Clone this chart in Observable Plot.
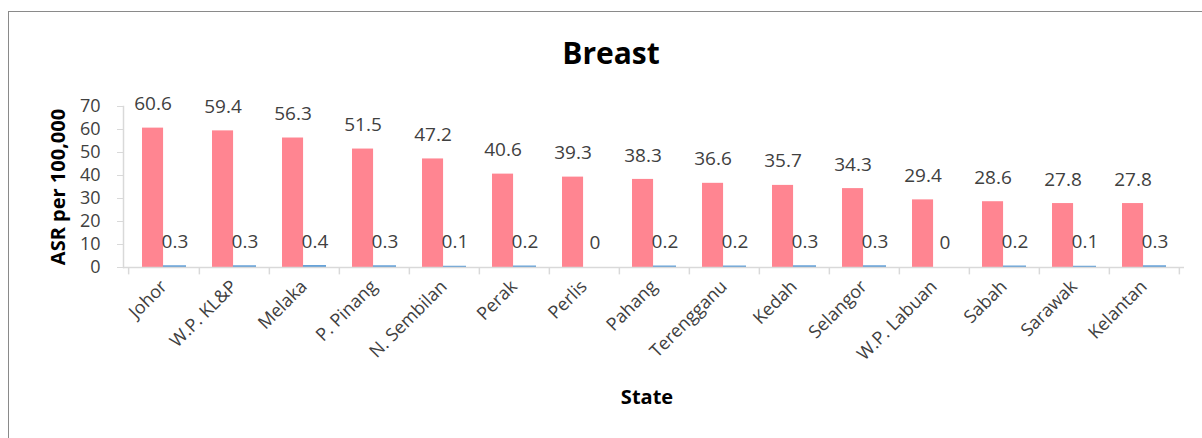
<!DOCTYPE html>
<html>
<head>
<meta charset="utf-8">
<script src="https://cdn.jsdelivr.net/npm/d3@7"></script>
<script src="https://cdn.jsdelivr.net/npm/@observablehq/plot@0.6"></script>
<style>
  html, body { margin: 0; padding: 0; background: #fff; }
  #wrap { position: relative; width: 1202px; height: 438px; overflow: hidden; }
  #border { position: absolute; left: 8px; top: 11px; width: 1400px; height: 600px;
            border-top: 1.5px solid #8a8a8a; border-left: 1.5px solid #8a8a8a; pointer-events: none; }
  #chart { position: absolute; left: 0; top: 0; }
</style>
</head>
<body>
<div id="wrap"><div id="chart"></div><div id="border"></div></div>
<script>
const states = ["Johor","W.P. KL&P","Melaka","P. Pinang","N. Sembilan","Perak","Perlis","Pahang","Terengganu","Kedah","Selangor","W.P. Labuan","Sabah","Sarawak","Kelantan"];
const female = [60.6,59.4,56.3,51.5,47.2,40.6,39.3,38.3,36.6,35.7,34.3,29.4,28.6,27.8,27.8];
const male = [0.3,0.3,0.4,0.3,0.1,0.2,0,0.2,0.2,0.3,0.3,0,0.2,0.1,0.3];
const yTicks = [0,10,20,30,40,50,60,70];
const title = "Breast";
const yLabel = "ASR per 100,000";
const xLabel = "State";

const rows = states.map((s, i) => ({state: s, female: female[i], male: male[i]}));

const W = 1202, H = 438, mL = 123, mR = 18, mT = 106, mB = 171;
const pIn = 0.38, pOut = 0.19;
const step = (W - mL - mR) / states.length;
const bw = step * (1 - pIn);
const axisGray = "#d9d9d9";
const txt = "#404040";

const chart = Plot.plot({
  width: W, height: H,
  marginLeft: mL, marginRight: mR, marginTop: mT, marginBottom: mB,
  style: {fontFamily: "'Open Sans', sans-serif", fontSize: "18px", color: txt, background: "transparent", overflow: "visible"},
  x: {domain: states, paddingInner: pIn, paddingOuter: pOut, label: null},
  y: {domain: [0, 70], label: null},
  marks: [
    Plot.barY(rows, {x: "state", y: "female", fill: "#FF8591", insetRight: bw / 2}),
    Plot.barY(rows.filter(d => d.male > 0), {x: "state", y: "male", fill: "#5B9BD5", stroke: "#5B9BD5", strokeWidth: 2, insetLeft: bw / 2}),
    Plot.ruleY([0], {stroke: axisGray, strokeWidth: 1.5}),
    Plot.frame({anchor: "left", stroke: axisGray, strokeWidth: 1.5}),
    Plot.ruleX(states, {y1: 0, y2: -3.2, dx: step / 2, stroke: axisGray, strokeWidth: 1.5}),
    Plot.ruleX([states[0]], {y1: 0, y2: -3.2, dx: -step / 2, stroke: axisGray, strokeWidth: 1.5}),
    Plot.axisY({ticks: yTicks, tickSize: 6, tickPadding: 17, stroke: axisGray, fill: txt, label: null, tickFormat: d => String(d)}),
    Plot.axisX({tickSize: 0, tickRotate: -45, tickPadding: 16, fontSize: 18, fill: txt, label: null}),
    Plot.text(rows, {x: "state", y: "female", text: d => String(d.female), dx: -bw / 4, dy: -24, fontSize: 19, fill: txt}),
    Plot.text(rows, {x: "state", y: "male", text: d => String(d.male), dx: bw / 4, dy: -25, fontSize: 19, fill: txt}),
    Plot.text([title], {frameAnchor: "top", lineAnchor: "middle", dx: -43, dy: -52, fontSize: 30, fontWeight: "bold", fill: "#000"}),
    Plot.text([yLabel], {frameAnchor: "left", textAnchor: "middle", lineAnchor: "middle", rotate: -90, dx: -65, fontSize: 20, fontWeight: "bold", fill: "#000"}),
    Plot.text([xLabel], {frameAnchor: "bottom", lineAnchor: "middle", dx: -7, dy: 130, fontSize: 20, fontWeight: "bold", fill: "#000"})
  ]
});
document.getElementById("chart").appendChild(chart);
</script>
</body>
</html>
